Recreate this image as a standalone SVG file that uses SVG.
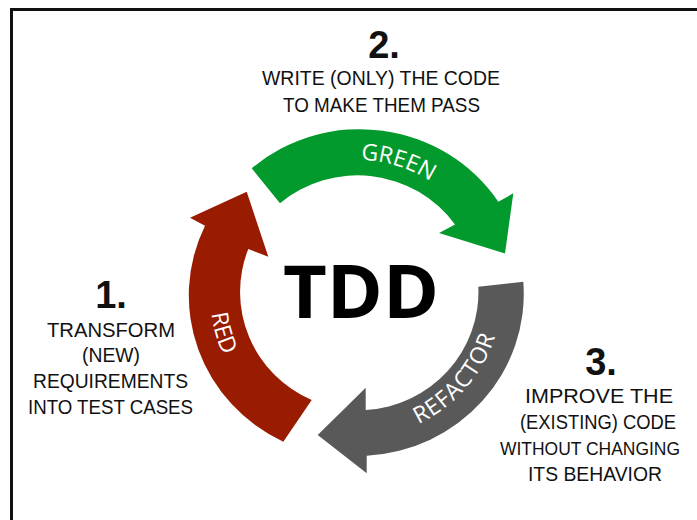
<svg xmlns="http://www.w3.org/2000/svg" width="697" height="520" viewBox="0 0 697 520">
  <style>
    .band-label { font-family: "Open Sans", "Noto Sans", sans-serif; font-size: 23px; fill: #ffffff; }
    .hand { font-family: "Liberation Sans", "DejaVu Sans", sans-serif; font-size: 21px; fill: #111111; }
    .num { font-family: "Liberation Sans", "DejaVu Sans", sans-serif; font-size: 38px; font-weight: bold; fill: #111111; }
    .frame { stroke: #111111; stroke-width: 3; fill: none; }
  </style>
  <defs>
    <path id="p-green" d="M 255.4,207.9 A 134 134 0 0 1 491.3,280.0"/>
    <path id="p-red" d="M 264.9,179.0 A 148 148 0 0 0 340.0,440.9"/>
    <path id="p-refactor" d="M 306.0,429.4 A 146 146 0 0 0 484.8,223.7"/>
  </defs>

  <rect width="697" height="520" fill="#ffffff"/>

  <g id="frame">
    <path class="frame" d="M 11.5,520 L 11.5,9.5 L 697,9.5"/>
  </g>

  <g id="connectors">
    <g id="arrow-green">
      <path fill="#039A2D" d="M 251.7,168.3 A 166 162 0 0 1 498.3,201.7 L 513.3,193.3 L 505,253.5 L 439,233 L 455,224.5 A 120 118 0 0 0 280,203.3 Z"/>
      <text class="band-label"><textPath href="#p-green" startOffset="50%" text-anchor="middle">GREEN</textPath></text>
    </g>
    <g id="arrow-refactor">
      <path fill="#595959" d="M 523.3,281.7 A 166 162 0 0 1 366.7,455.7 L 366.7,473.3 L 317.7,435 L 365.7,387.7 L 365.7,410 A 120 118 0 0 0 478.3,286.7 Z"/>
      <text class="band-label" letter-spacing="1"><textPath href="#p-refactor" startOffset="50%" text-anchor="middle">REFACTOR</textPath></text>
    </g>
    <g id="arrow-red">
      <path fill="#991B00" d="M 283.3,441.7 A 166 162 0 0 1 205,225.7 L 190,217.7 L 246.7,191.7 L 268.3,256.7 L 248.3,249 A 120 118 0 0 0 311.7,400 Z"/>
      <text class="band-label"><textPath href="#p-red" startOffset="50%" text-anchor="middle">RED</textPath></text>
    </g>
  </g>

  <g id="tdd-center">
    <text x="361" y="318" text-anchor="middle" textLength="156" lengthAdjust="spacingAndGlyphs" font-family="'Open Sans', 'Noto Sans', sans-serif" font-size="74" font-weight="bold" fill="#000000">TDD</text>
  </g>

  <g id="note-2">
    <text class="num" x="384" y="58" text-anchor="middle">2.</text>
    <text class="hand" x="381" y="85" text-anchor="middle" textLength="238" lengthAdjust="spacingAndGlyphs">WRITE (ONLY) THE CODE</text>
    <text class="hand" x="381.5" y="112" text-anchor="middle" textLength="197" lengthAdjust="spacingAndGlyphs">TO MAKE THEM PASS</text>
  </g>

  <g id="note-1">
    <text class="num" x="111" y="308" text-anchor="middle">1.</text>
    <text class="hand" x="111" y="337" text-anchor="middle" textLength="128" lengthAdjust="spacingAndGlyphs">TRANSFORM</text>
    <text class="hand" x="111" y="362" text-anchor="middle" textLength="58" lengthAdjust="spacingAndGlyphs">(NEW)</text>
    <text class="hand" x="110.5" y="388" text-anchor="middle" textLength="155" lengthAdjust="spacingAndGlyphs">REQUIREMENTS</text>
    <text class="hand" x="110.5" y="414" text-anchor="middle" textLength="165" lengthAdjust="spacingAndGlyphs">INTO TEST CASES</text>
  </g>

  <g id="note-3">
    <text class="num" x="601" y="375" text-anchor="middle">3.</text>
    <text class="hand" x="599" y="403" text-anchor="middle" textLength="148" lengthAdjust="spacingAndGlyphs">IMPROVE THE</text>
    <text class="hand" x="598" y="429" text-anchor="middle" textLength="156" lengthAdjust="spacingAndGlyphs">(EXISTING) CODE</text>
    <text class="hand" x="590" y="455" text-anchor="middle" style="font-size:18px" textLength="180" lengthAdjust="spacingAndGlyphs">WITHOUT CHANGING</text>
    <text class="hand" x="595" y="481" text-anchor="middle" textLength="134" lengthAdjust="spacingAndGlyphs">ITS BEHAVIOR</text>
  </g>
</svg>
